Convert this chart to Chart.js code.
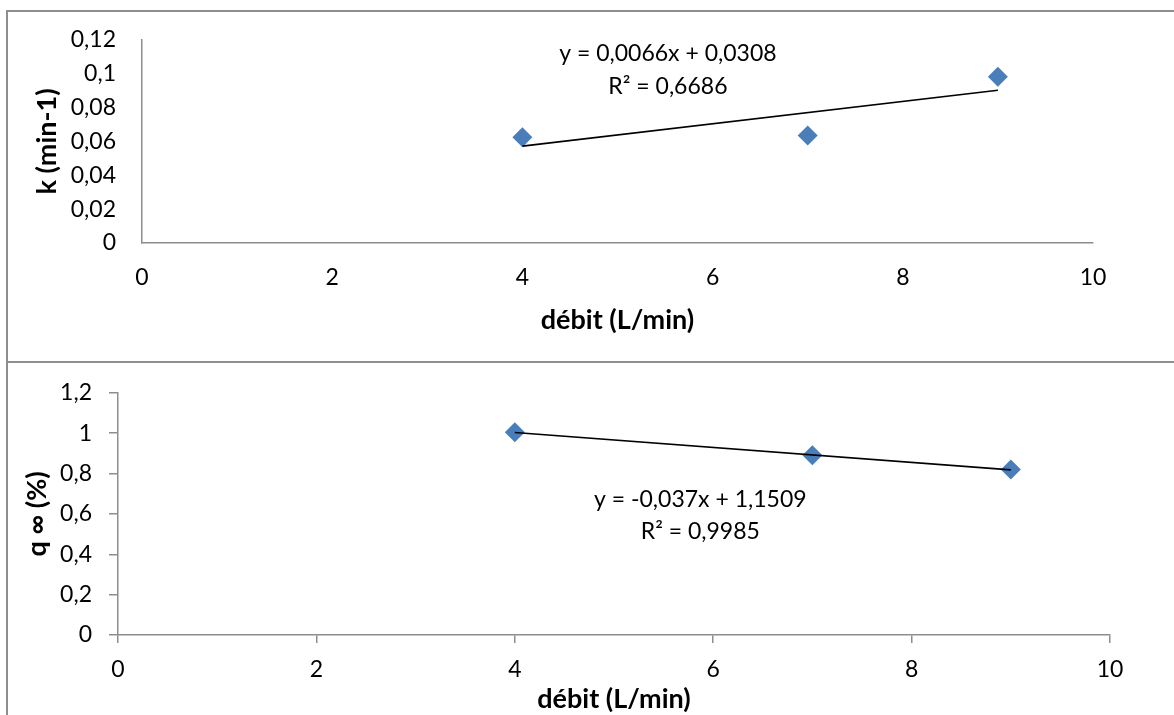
<!DOCTYPE html>
<html>
<head>
<meta charset="utf-8">
<script src="https://cdn.jsdelivr.net/npm/chart.js@4.4.0/dist/chart.umd.min.js"></script>
<style>
  html, body { margin:0; padding:0; background:#fff; overflow:hidden; }
  body { width:1174px; height:715px; position:relative; }
  .cadre { position:absolute; left:6px; width:1200px; border:2px solid #8e8e8e; border-right:none; box-sizing:border-box; }
  #cadreHaut { top:10px; height:353px; }
  #cadreBas { top:361px; height:400px; }
  canvas { position:absolute; left:0; }
  #graphK { top:0; }
  #graphQ { top:362px; }
</style>
</head>
<body>
<div class="cadre" id="cadreHaut"></div>
<div class="cadre" id="cadreBas"></div>
<canvas id="graphK" width="1174" height="360"></canvas>
<canvas id="graphQ" width="1174" height="353"></canvas>
<script>
/*DONNEES*/
var debits = [4, 7, 9];
var valeursK = [0.0624, 0.0635, 0.0982];
var valeursQ = [1.005, 0.89, 0.82];

// courbes de tendance (extrémités)
var tendanceX = [4, 9];
var tendanceK = [0.0572, 0.0902];
var tendanceQ = [1.003, 0.818];

var ticksX = [0, 2, 4, 6, 8, 10];
var ticksK = [0, 0.02, 0.04, 0.06, 0.08, 0.1, 0.12];
var ticksQ = [0, 0.2, 0.4, 0.6, 0.8, 1, 1.2];

var equationK = ["y = 0,0066x + 0,0308", "R² = 0,6686"];
var equationQ = ["y = -0,037x + 1,1509", "R² = 0,9985"];
/*DONNEES*/

var police = "Lato, 'Open Sans', sans-serif";
var bleu = "#4a7ebb";
var gris = "#8e8e8e";

function virgule(v) {
  return String(Number(v.toFixed(4))).replace(".", ",");
}

function points(xs, ys) {
  var tab = [];
  for (var i = 0; i < xs.length; i++) {
    tab.push({x: xs[i], y: ys[i]});
  }
  return tab;
}

/*TEXTE DE L'EQUATION*/
var pluginEquation = {
  id: "equation",
  afterDatasetsDraw: function (chart, args, opts) {
    var ctx = chart.ctx;
    var px = chart.scales.x.getPixelForValue(opts.x);
    ctx.save();
    ctx.font = "23px " + police;
    ctx.fillStyle = "#000";
    ctx.textAlign = "center";
    ctx.textBaseline = "middle";
    for (var i = 0; i < opts.lignes.length; i++) {
      ctx.fillText(opts.lignes[i], px, chart.scales.y.getPixelForValue(opts.y[i]));
    }
    ctx.restore();
  }
};

function creerGraphique(id, valeurs, tendance, ticksY, lignes, reglages) {
  var ctx = document.getElementById(id);
  return new Chart(ctx, {
    type: "scatter",
    data: {
      datasets: [{
        label: "mesures",
        data: points(debits, valeurs),
        pointStyle: "rectRot",
        pointRadius: 10,
        backgroundColor: bleu,
        borderColor: bleu,
        borderWidth: 0,
        order: 2
      },{
        label: "tendance",
        type: "line",
        data: points(tendanceX, tendance),
        borderColor: "#000",
        borderWidth: 1.6,
        pointRadius: 0,
        fill: false,
        order: 1
      }]
    },
    plugins: [pluginEquation],
    options: {
      responsive: false,
      animation: false,
      layout: {padding: {left: 0, top: reglages.haut, right: reglages.droite, bottom: 0}},
      plugins: {
        legend: {display: false},
        tooltip: {enabled: false},
        equation: {x: reglages.eqX, y: reglages.eqY, lignes: lignes}
      },
      scales: {
        x: {
          type: "linear",
          min: ticksX[0],
          max: ticksX[ticksX.length - 1],
          afterBuildTicks: function (axe) { axe.ticks = ticksX.map(function (v) { return {value: v}; }); },
          afterFit: function (axe) { axe.height = reglages.hauteurX; },
          grid: {display: reglages.graduations, drawOnChartArea: false, drawTicks: reglages.graduations, tickLength: 8, color: gris, lineWidth: 1.5},
          border: {display: true, color: gris, width: 1.5},
          ticks: {color: "#000", padding: reglages.padX, font: {family: police, size: 23}, callback: function (v) { return virgule(v); }},
          title: {display: true, text: "débit (L/min)", color: "#000", padding: {top: 0, bottom: reglages.titreX}, font: {family: police, size: 27, weight: "bold"}}
        },
        y: {
          type: "linear",
          min: ticksY[0],
          max: ticksY[ticksY.length - 1],
          afterBuildTicks: function (axe) { axe.ticks = ticksY.map(function (v) { return {value: v}; }); },
          afterFit: function (axe) { axe.width = reglages.largeurY; },
          grid: {display: reglages.graduations, drawOnChartArea: false, drawTicks: reglages.graduations, tickLength: 9, color: gris, lineWidth: 1.5},
          border: {display: true, color: gris, width: 1.5},
          ticks: {color: "#000", padding: reglages.padY, font: {family: police, size: 23}, callback: function (v) { return virgule(v); }},
          title: {display: true, text: reglages.titreY, color: "#000", padding: {top: reglages.titreYpad, bottom: 0}, font: {family: police, size: 27, weight: "bold"}}
        }
      }
    }
  });
}

/*GRAPHIQUE K*/
creerGraphique("graphK", valeursK, tendanceK, ticksK, equationK, {
  haut: 39, droite: 81, hauteurX: 117, largeurY: 142,
  graduations: false, padX: 21, padY: 26, titreX: 24, titreYpad: 31,
  titreY: "k (min-1)", eqX: 5.53, eqY: [0.1118, 0.0924]
});

/*GRAPHIQUE Q*/
creerGraphique("graphQ", valeursQ, tendanceQ, ticksQ, equationQ, {
  haut: 26, droite: 64, hauteurX: 80, largeurY: 118,
  graduations: true, padX: 13, padY: 17, titreX: 0, titreYpad: 21,
  titreY: "q ∞ (%)", eqX: 5.87, eqY: [0.671, 0.51]
});
</script>
</body>
</html>
